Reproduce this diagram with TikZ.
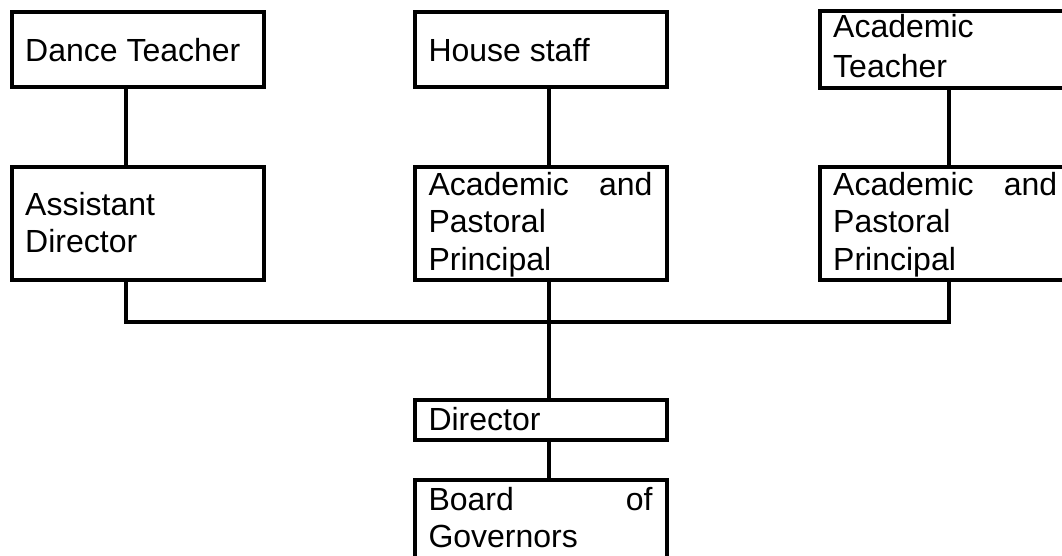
\documentclass[tikz,border=0pt]{standalone}
\usepackage{fontspec}
\setmainfont{Liberation Sans}
\begin{document}
\begin{tikzpicture}[x=1pt,y=-1pt,
  box/.style={draw, line width=4pt, inner sep=0pt, minimum width=252pt},
  txt/.style={anchor=base west, inner sep=0pt, font=\fontsize{32}{37.5}\selectfont},
  link/.style={line width=4pt}]
\useasboundingbox (0,0) rectangle (1062,555);
\clip (0,0) rectangle (1062,555);
% boxes
\node[box, minimum height=75pt]  (dance)    at (138,49.5) {};
\node[box, minimum height=75pt]  (house)    at (541,49.5) {};
\node[box, minimum height=77pt]  (acteach)  at (946,49.5) {};
\node[box, minimum height=113pt] (asst)     at (138,223.5) {};
\node[box, minimum height=113pt] (app1)     at (541,223.5) {};
\node[box, minimum height=113pt] (app2)     at (946,223.5) {};
\node[box, minimum height=40pt]  (director) at (541,420) {};
\node[box, minimum height=120pt] (board)    at (541,540) {};
% texts
\node[txt] (tdance)   at (25,61)  {Dance Teacher};
\node[txt] (thouse)   at (428.3,61) {House staff};
\node[txt] (tacteach) at (833,37.3) {\parbox[t]{224pt}{\baselineskip=40pt Academic\\Teacher}};
\node[txt] (tasst)    at (25,215)   {\parbox[t]{224pt}{Assistant\\Director}};
\node[txt] (tapp1)    at (428.3,195) {\parbox[t]{224pt}{Academic\hfill and\\Pastoral\\Principal}};
\node[txt] (tapp2)    at (833,195)  {\parbox[t]{224pt}{Academic\hfill and\\Pastoral\\Principal}};
\node[txt] (tdir)     at (428.3,430) {Director};
\node[txt] (tboard)   at (428.3,510) {\parbox[t]{224pt}{Board\hfill of\\Governors}};
% connectors
\draw[link] ([xshift=-12pt]dance.south) -- ([xshift=-12pt]asst.north);
\draw[link] ([xshift=8pt]house.south) -- ([xshift=8pt]app1.north);
\draw[link] ([xshift=2.7pt]acteach.south) -- ([xshift=2.7pt]app2.north);
\coordinate (bus) at (0,322);
\coordinate (la) at ([xshift=-12pt]asst.south);
\coordinate (lc) at ([xshift=2.7pt]app2.south);
\draw[link] (la) -- (la |- bus) -- (lc |- bus) -- (lc);
\draw[link] ([xshift=8pt]app1.south) -- ([xshift=8pt]director.north);
\draw[link] ([xshift=8pt]director.south) -- ([xshift=8pt]board.north);
\end{tikzpicture}
\end{document}
